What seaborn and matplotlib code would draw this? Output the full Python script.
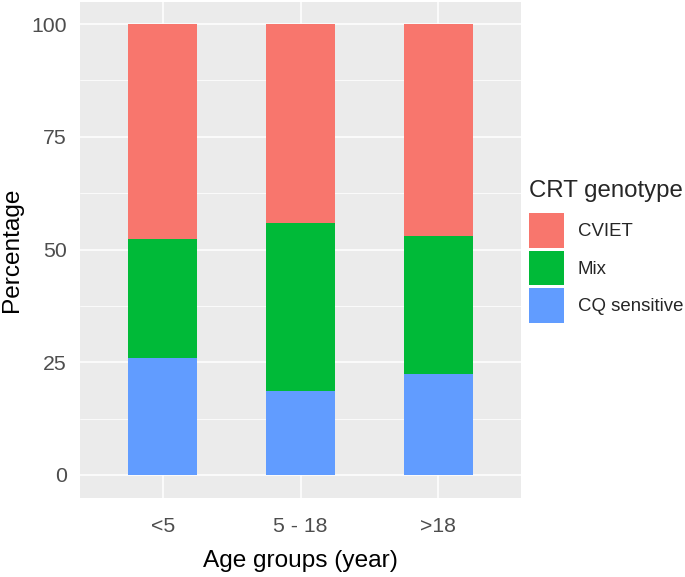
import numpy as np
import pandas as pd
import matplotlib
matplotlib.use("Agg")
import matplotlib.pyplot as plt
from matplotlib.patches import Patch
from matplotlib.ticker import MultipleLocator
import seaborn as sns

# ---- data ----
age_groups = ["<5", "5 - 18", ">18"]
cq_sensitive = [26.0, 18.7, 22.5]
mix = [26.3, 37.1, 30.6]
cviet = [47.7, 44.2, 46.9]
genotypes = ["CVIET", "Mix", "CQ sensitive"]
colors = {"CVIET": "#F8766D", "Mix": "#00BA38", "CQ sensitive": "#619CFF"}
y_ticks = [0, 25, 50, 75, 100]

sns.set_theme(style="darkgrid")
plt.rcParams["font.family"] = ["Liberation Sans", "DejaVu Sans"]

df = pd.DataFrame({"age": age_groups, "CQ sensitive": cq_sensitive,
                   "Mix": mix, "CVIET": cviet})
df["cum_cq"] = df["CQ sensitive"]
df["cum_mix"] = df["cum_cq"] + df["Mix"]
df["cum_all"] = df["cum_mix"] + df["CVIET"]

W, H = 685, 577
fig = plt.figure(figsize=(W / 100, H / 100), dpi=100)
ax = fig.add_axes([80 / W, 1 - 497.5 / H, 441 / W, 496 / H])
ax.set_facecolor("#EBEBEB")

for col, g in [("cum_all", "CVIET"), ("cum_mix", "Mix"), ("cum_cq", "CQ sensitive")]:
    sns.barplot(data=df, x="age", y=col, order=age_groups, color=colors[g],
                width=0.5, saturation=1, ax=ax, linewidth=0, zorder=3)

ax.set_xlim(-0.6, 2.6)
ax.set_ylim(-5, 105)
ax.set_yticks(y_ticks)
ax.yaxis.set_minor_locator(MultipleLocator(12.5))
ax.grid(True, which="major", color="white", linewidth=1.1, zorder=0)
ax.grid(True, which="minor", axis="y", color="white", linewidth=0.55, zorder=0)
ax.set_axisbelow(True)
for s in ax.spines.values():
    s.set_visible(False)

ax.tick_params(axis="both", which="major", length=4, width=1.1, color="#333333",
               labelsize=15.3, labelcolor="#4D4D4D")
ax.tick_params(axis="both", which="minor", length=0)
ax.tick_params(axis="y", pad=5.5)
ax.tick_params(axis="x", pad=10)
ax.set_xlabel("Age groups (year)", fontsize=17.6, color="black", labelpad=10)
ax.set_ylabel("Percentage", fontsize=17.6, color="black", labelpad=6)

handles = [Patch(facecolor=colors[g], edgecolor="none") for g in genotypes]
leg = fig.legend(handles, genotypes, title="CRT genotype", loc="upper left",
                 bbox_to_anchor=(529 / W, 1 - 180 / H), frameon=False,
                 fontsize=13.4, title_fontsize=17.3, handlelength=1.88,
                 handleheight=2.515, labelspacing=0.13, handletextpad=0.75,
                 borderpad=0, borderaxespad=0, alignment="left")
leg._legend_box.sep = 8

fig.savefig("out.png", dpi=100)
